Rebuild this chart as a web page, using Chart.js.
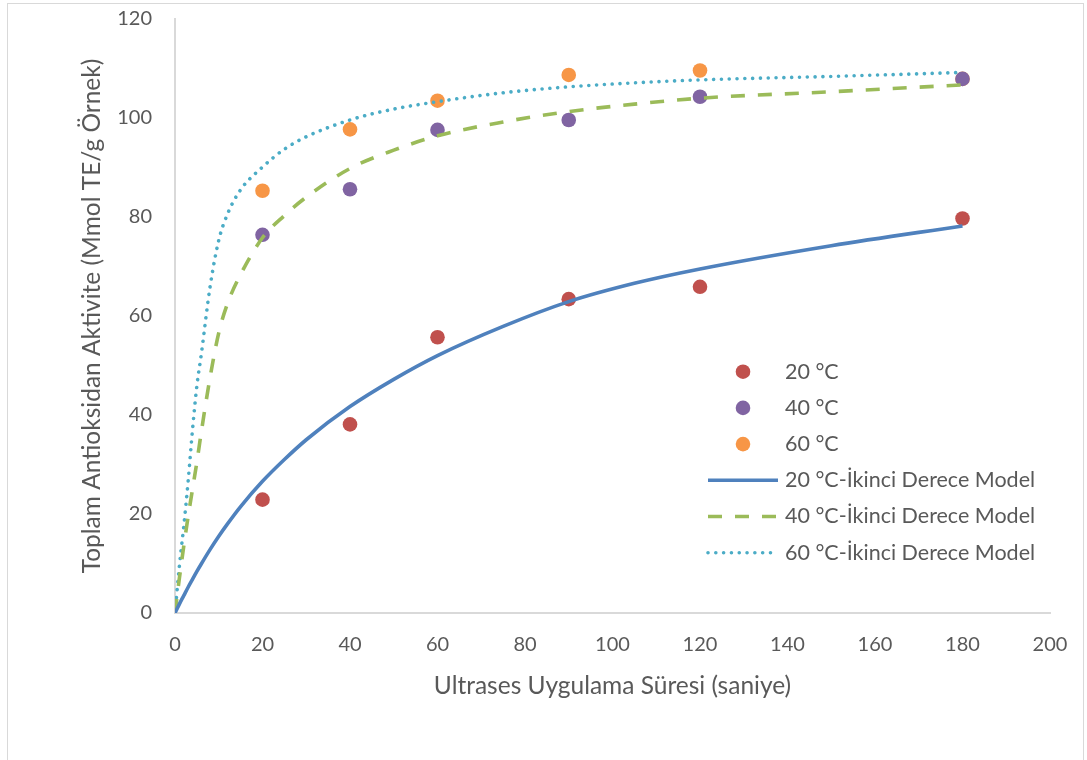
<!DOCTYPE html>
<html>
<head>
<meta charset="utf-8">
<script src="https://cdn.jsdelivr.net/npm/chart.js@4.4.1/dist/chart.umd.min.js"></script>
<style>
html, body { margin: 0; padding: 0; background: #fff; overflow: hidden; }
#frame { position: absolute; left: 7px; top: 3px; width: 1075px; height: 800px; border: 1px solid #d9d9d9; }
#wrap { position: absolute; left: 0; top: 0; width: 1087px; height: 760px; }
</style>
</head>
<body>
<div id="frame"></div>
<div id="wrap"><canvas id="chart" width="1087" height="760"></canvas></div>
<script>
// Deney noktalari
const sampleTimes = [20, 40, 60, 90, 120, 180];
const obs20 = [22.9, 38.1, 55.7, 63.4, 65.9, 79.7];
const obs40 = [76.4, 85.6, 97.6, 99.6, 104.3, 107.9];
const obs60 = [85.3, 97.7, 103.5, 108.7, 109.6, 107.9];

// Model egrileri
const modelTimes = [0, 1, 2, 3, 4, 5, 6, 8, 10, 12, 15, 20, 25, 30, 40, 50, 60, 75, 90, 105, 120, 150, 180];
const model20 = [0, 1.8, 3.5, 5.2, 6.8, 8.4, 9.9, 12.8, 15.5, 18.0, 21.5, 26.6, 31.0, 35.0, 41.7, 47.2, 52.0, 57.9, 62.9, 66.6, 69.5, 74.2, 78.2];
const model40 = [0, 7.0, 13.5, 19.5, 25.0, 30.5, 36.5, 47.5, 56.6, 62.5, 68.4, 75.8, 80.3, 84.0, 89.8, 93.5, 96.4, 99.2, 101.3, 102.8, 104.0, 105.3, 106.7];
const model60 = [0, 9.5, 17.5, 26.6, 37.0, 45.9, 52.2, 65.8, 75.3, 80.6, 85.5, 90.1, 93.7, 96.2, 99.6, 101.8, 103.3, 105.1, 106.3, 107.1, 107.7, 108.4, 109.2];

const xTicks = [0, 20, 40, 60, 80, 100, 120, 140, 160, 180, 200];
const yTicks = [0, 20, 40, 60, 80, 100, 120];

const textColor = '#595959';
const axisColor = '#d9d9d9';
const fontFamily = 'Lato, "Open Sans", sans-serif';

const toPoints = (xs, ys) => xs.map((x, i) => ({ x: x, y: ys[i] }));

const pointSet = (label, values, color) => ({
    label: label,
    data: toPoints(sampleTimes, values),
    backgroundColor: color,
    borderColor: color,
    borderWidth: 0,
    pointRadius: 7.3,
    showLine: false,
    order: 1
});

const lineSet = (label, values, color, dash, cap) => ({
    label: label,
    data: toPoints(modelTimes, values),
    borderColor: color,
    backgroundColor: color,
    borderWidth: 3.6,
    borderDash: dash,
    borderCapStyle: cap,
    pointRadius: 0,
    showLine: true,
    cubicInterpolationMode: 'monotone',
    order: 0
});

const datasets = [
    pointSet('20 °C', obs20, '#c0504d'),
    pointSet('40 °C', obs40, '#8064a2'),
    pointSet('60 °C', obs60, '#f79646'),
    lineSet('20 °C-İkinci Derece Model', model20, '#4f81bd', [], 'butt'),
    lineSet('40 °C-İkinci Derece Model', model40, '#9bbb59', [14, 13], 'butt'),
    lineSet('60 °C-İkinci Derece Model', model60, '#4bacc6', [0.01, 7.8], 'round')
];

// Lejant, cizim alaninin icinde
const insideLegend = {
    id: 'insideLegend',
    afterDraw(chart) {
        const ctx = chart.ctx;
        ctx.save();
        ctx.font = '21.5px ' + fontFamily;
        ctx.textBaseline = 'middle';
        chart.data.datasets.forEach((ds, i) => {
            const y = 371.7 + i * 36.2;
            if (ds.showLine) {
                ctx.strokeStyle = ds.borderColor;
                ctx.lineWidth = ds.borderWidth;
                ctx.lineCap = ds.borderCapStyle;
                ctx.setLineDash(ds.borderDash);
                ctx.beginPath();
                ctx.moveTo(708, y);
                ctx.lineTo(778, y);
                ctx.stroke();
                ctx.setLineDash([]);
            } else {
                ctx.fillStyle = ds.backgroundColor;
                ctx.beginPath();
                ctx.arc(743, y, ds.pointRadius, 0, Math.PI * 2);
                ctx.fill();
            }
            ctx.fillStyle = textColor;
            ctx.fillText(ds.label, 785, y);
        });
        ctx.restore();
    }
};

new Chart(document.getElementById('chart'), {
    type: 'scatter',
    data: { datasets: datasets },
    options: {
        responsive: false,
        devicePixelRatio: 1,
        animation: false,
        layout: { padding: { left: 0, right: 37, top: 19, bottom: 0 } },
        plugins: {
            legend: { display: false },
            tooltip: { enabled: false }
        },
        scales: {
            x: {
                type: 'linear',
                min: xTicks[0],
                max: xTicks[xTicks.length - 1],
                afterBuildTicks: (s) => { s.ticks = xTicks.map(v => ({ value: v })); },
                afterFit: (s) => { s.height = 147; s.paddingLeft = 0; s.paddingRight = 0; },
                ticks: { color: textColor, font: { family: fontFamily, size: 20 }, padding: 20, maxRotation: 0 },
                grid: { display: false, drawTicks: false },
                border: { display: true, color: axisColor, width: 2 },
                title: {
                    display: true,
                    text: 'Ultrases Uygulama Süresi (saniye)',
                    color: textColor,
                    font: { family: fontFamily, size: 24.5 },
                    padding: { top: 0, bottom: 59 }
                }
            },
            y: {
                type: 'linear',
                min: yTicks[0],
                max: yTicks[yTicks.length - 1],
                afterBuildTicks: (s) => { s.ticks = yTicks.map(v => ({ value: v })); },
                afterFit: (s) => { s.width = 175; s.paddingTop = 0; s.paddingBottom = 0; },
                ticks: { color: textColor, font: { family: fontFamily, size: 20 }, padding: 23 },
                grid: { display: false, drawTicks: false },
                border: { display: true, color: axisColor, width: 2 },
                title: {
                    display: true,
                    text: 'Toplam Antioksidan Aktivite (Mmol TE/g Örnek)',
                    color: textColor,
                    font: { family: fontFamily, size: 24.5 },
                    padding: { top: 77, bottom: 0 }
                }
            }
        }
    },
    plugins: [insideLegend]
});
</script>
</body>
</html>
